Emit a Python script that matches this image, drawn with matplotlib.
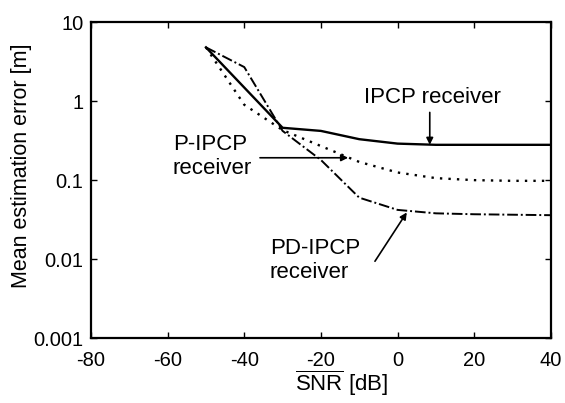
import matplotlib
matplotlib.use("Agg")
import matplotlib.pyplot as plt

plt.rcParams['font.family'] = ['Liberation Sans', 'DejaVu Sans']
plt.rcParams['mathtext.fontset'] = 'custom'
plt.rcParams['mathtext.rm'] = 'Liberation Sans'

# Data
snr_ipcp = [-50, -30, -20, -10, 0, 10, 20, 40]
err_ipcp = [4.8, 0.46, 0.42, 0.33, 0.29, 0.28, 0.28, 0.28]

snr_pipcp = [-50, -40, -30, -20, -10, 0, 10, 20, 30, 40]
err_pipcp = [4.8, 0.9, 0.43, 0.27, 0.17, 0.125, 0.106, 0.1, 0.098, 0.098]

snr_pdipcp = [-50, -40, -30, -20, -10, 0, 10, 20, 40]
err_pdipcp = [4.8, 2.7, 0.42, 0.18, 0.06, 0.042, 0.038, 0.037, 0.036]

xticks = [-80, -60, -40, -20, 0, 20, 40]
yticks = [0.001, 0.01, 0.1, 1, 10]
ytick_labels = ['0.001', '0.01', '0.1', '1', '10']

fig = plt.figure(figsize=(5.65, 4.03), dpi=100)
ax = fig.add_axes([0.161, 0.161, 0.814, 0.784])

ax.plot(snr_ipcp, err_ipcp, color='black', lw=1.7, ls='-')
ax.plot(snr_pipcp, err_pipcp, color='black', lw=1.7, ls=(0, (1, 2.6)))
ax.plot(snr_pdipcp, err_pdipcp, color='black', lw=1.4, ls=(0, (5.5, 1.5, 1, 1.5)))

ax.set_yscale('log')
ax.set_xlim(-80, 40)
ax.set_ylim(0.001, 10)
ax.set_xticks(xticks)
ax.set_xticklabels([str(t) for t in xticks])
ax.set_yticks(yticks)
ax.set_yticklabels(ytick_labels)
ax.minorticks_off()
ax.tick_params(direction='in', top=True, right=True, length=4, width=1.0,
               labelsize=14.5)
ax.tick_params(axis='x', pad=9)
ax.tick_params(axis='y', pad=5.5)
for s in ax.spines.values():
    s.set_linewidth(1.6)

ax.set_xlabel(r'$\overline{\mathrm{SNR}}$ [dB]', fontsize=16)
ax.xaxis.set_label_coords(0.546, -0.097)
ax.set_ylabel('Mean estimation error [m]', fontsize=15.5)
ax.yaxis.set_label_coords(-0.128, 0.544)

fs = 16
ax.text(9.2, 1.1, 'IPCP receiver', fontsize=fs, ha='center', va='center')
ax.annotate('', xy=(8.4, 0.28), xytext=(8.4, 0.72),
            arrowprops=dict(arrowstyle='-|>', color='black', lw=1.2,
                            mutation_scale=10, shrinkA=0, shrinkB=0))

ax.text(-58.6, 0.2, 'P-IPCP\nreceiver', fontsize=fs, ha='left', va='center',
        linespacing=1.15)
ax.annotate('', xy=(-12.9, 0.192), xytext=(-35.9, 0.192),
            arrowprops=dict(arrowstyle='-|>', color='black', lw=1.2,
                            mutation_scale=10, shrinkA=0, shrinkB=0))

ax.text(-33.3, 0.0096, 'PD-IPCP\nreceiver', fontsize=fs, ha='left', va='center',
        linespacing=1.15)
ax.annotate('', xy=(2.4, 0.039), xytext=(-5.9, 0.0094),
            arrowprops=dict(arrowstyle='-|>', color='black', lw=1.2,
                            mutation_scale=10, shrinkA=0, shrinkB=0))

fig.savefig('out.png', dpi=100)
